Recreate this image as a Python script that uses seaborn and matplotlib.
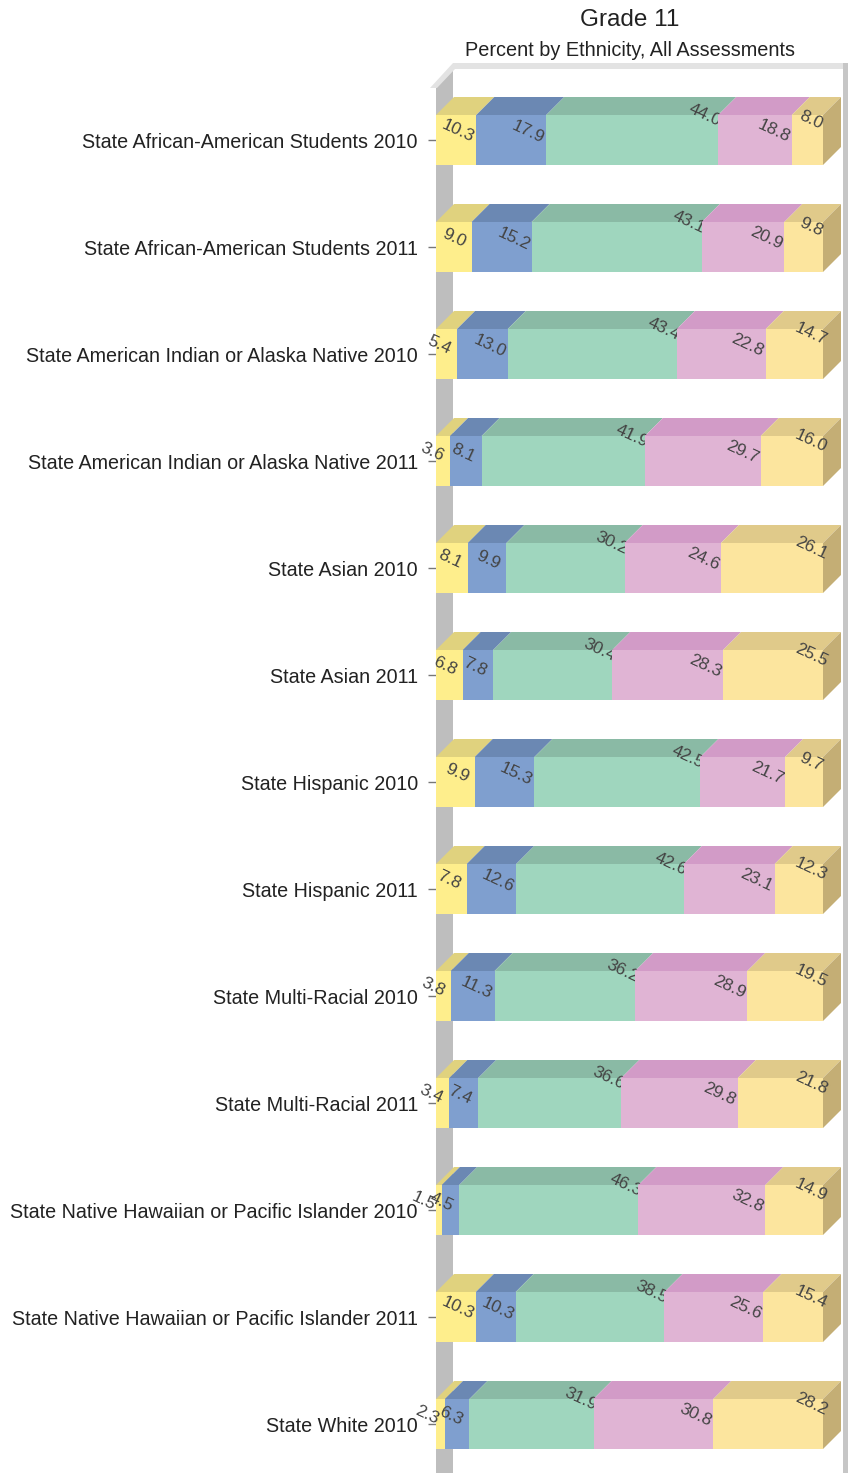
import numpy as np
import pandas as pd
import matplotlib
matplotlib.use("Agg")
import matplotlib.pyplot as plt
import seaborn as sns

# ── data ────────────────────────────────────────────────────────────────
categories = [
    "State African-American Students 2010",
    "State African-American Students 2011",
    "State American Indian or Alaska Native 2010",
    "State American Indian or Alaska Native 2011",
    "State Asian 2010",
    "State Asian 2011",
    "State Hispanic 2010",
    "State Hispanic 2011",
    "State Multi-Racial 2010",
    "State Multi-Racial 2011",
    "State Native Hawaiian or Pacific Islander 2010",
    "State Native Hawaiian or Pacific Islander 2011",
    "State White 2010",
]
level1 = [10.3, 9.0, 5.4, 3.6, 8.1, 6.8, 9.9, 7.8, 3.8, 3.4, 1.5, 10.3, 2.3]
level2 = [17.9, 15.2, 13.0, 8.1, 9.9, 7.8, 15.3, 12.6, 11.3, 7.4, 4.5, 10.3, 6.3]
level3 = [44.0, 43.1, 43.4, 41.9, 30.2, 30.4, 42.5, 42.6, 36.2, 36.6, 46.3, 38.5, 31.9]
level4 = [18.8, 20.9, 22.8, 29.7, 24.6, 28.3, 21.7, 23.1, 28.9, 29.8, 32.8, 25.6, 30.8]
level5 = [8.0, 9.8, 14.7, 16.0, 26.1, 25.5, 9.7, 12.3, 19.5, 21.8, 14.9, 15.4, 28.2]

title = "Grade 11"
subtitle = "Percent by Ethnicity, All Assessments"

# ── style ───────────────────────────────────────────────────────────────
front_colors = ["#FEEE8C", "#7F9FCF", "#9FD6BE", "#E0B4D4", "#FCE59E"]
top_colors = ["#E0D27E", "#6B88B3", "#8ABAA5", "#D29BC7", "#E0CA8A"]
side_color = "#C4AE75"
label_dx = [-18, -18, -13, -18, -12]   # label centre offset from segment end, px
label_dy = [9, 8, 25, 9, 20]

FIG_W, FIG_H, DPI = 850, 1473, 100
X0_PX, PX_X = 436, 3.87          # pixel of 0 %, pixels per percent
ROW0_PX, PX_Y = 140, 107         # pixel of first row centre, pixels per row
DEPTH = 18                       # 3D depth in px
BAR_H = 50 / PX_Y
XMAX, YTOP, YBOT = 107, -0.75, 13.6

sns.set_theme(style="white")
plt.rcParams["font.family"] = ["Liberation Sans", "DejaVu Sans"]

df = pd.DataFrame({"group": categories, "l1": level1, "l2": level2,
                   "l3": level3, "l4": level4, "l5": level5})
cols = ["l1", "l2", "l3", "l4", "l5"]
totals = df[cols].sum(axis=1)
shares = df[cols].div(totals, axis=0) * 100
lefts = shares.cumsum(axis=1) - shares

fig = plt.figure(figsize=(FIG_W / DPI, FIG_H / DPI), dpi=DPI)
top_px = ROW0_PX + YTOP * PX_Y
bot_px = ROW0_PX + YBOT * PX_Y
ax = fig.add_axes([X0_PX / FIG_W, 1 - bot_px / FIG_H,
                   XMAX * PX_X / FIG_W, (bot_px - top_px) / FIG_H])


def xd(px):
    return (px - X0_PX) / PX_X


def yd(py):
    return (py - ROW0_PX) / PX_Y


ddx, ddy = DEPTH / PX_X, DEPTH / PX_Y

# ── 3D frame ────────────────────────────────────────────────────────────
ax.fill([xd(436), xd(436), xd(453), xd(453)], [yd(1600), yd(87), yd(69), yd(1600)],
        color="#BEBEBE", lw=0, zorder=0.5, clip_on=False)
ax.fill([xd(430), xd(437), xd(455), xd(848), xd(848), xd(453)],
        [yd(88), yd(88), yd(69), yd(69), yd(63), yd(63)],
        color="#E3E3E3", lw=0, zorder=0.5, clip_on=False)
ax.fill([xd(843), xd(848), xd(848), xd(843)], [yd(63), yd(63), yd(1600), yd(1600)],
        color="#C6C6C6", lw=0, zorder=0.5, clip_on=False)

# ── stacked 3D bars ─────────────────────────────────────────────────────
for i, col in enumerate(cols):
    z = 2 + 2 * i
    sns.barplot(x=shares[col].values, y=df["group"], left=lefts[col].values,
                color=front_colors[i], saturation=1, width=BAR_H, errorbar=None,
                orient="h", linewidth=0, edgecolor="none", zorder=z, ax=ax)
    for k in range(len(df)):
        l0 = lefts[col].iloc[k]
        l1 = l0 + shares[col].iloc[k]
        yt = k - BAR_H / 2
        ax.fill([l0, l1, l1 + ddx, l0 + ddx], [yt, yt, yt - ddy, yt - ddy],
                color=top_colors[i], lw=0, zorder=z)
        if i == len(cols) - 1:
            ax.fill([l1, l1 + ddx, l1 + ddx, l1],
                    [yt, yt - ddy, yt + BAR_H - ddy, yt + BAR_H],
                    color=side_color, lw=0, zorder=z)
        ax.annotate(f"{df[col].iloc[k]:.1f}", xy=(l1, k),
                    xytext=(label_dx[i], label_dy[i]), textcoords="offset pixels",
                    ha="center", va="center", rotation=-25, fontsize=12.5,
                    color="#444444", zorder=z + 1, annotation_clip=False)

ax.set_xlim(0, XMAX)
ax.set_ylim(YBOT, YTOP)
ax.set_xlabel("")
ax.set_ylabel("")
ax.set_xticks([])
ax.tick_params(axis="y", length=6, width=1, color="#777777", pad=7,
               labelsize=14.2, labelcolor="#222222", left=True)
for s in ax.spines.values():
    s.set_visible(False)
ax.patch.set_alpha(0)

fig.text(630 / FIG_W, 1 - 20 / FIG_H, title, ha="center", va="center",
         fontsize=17.5, color="#222222")
fig.text(630 / FIG_W, 1 - 50 / FIG_H, subtitle, ha="center", va="center",
         fontsize=14.3, color="#222222")

fig.savefig("out.png", dpi=DPI)
